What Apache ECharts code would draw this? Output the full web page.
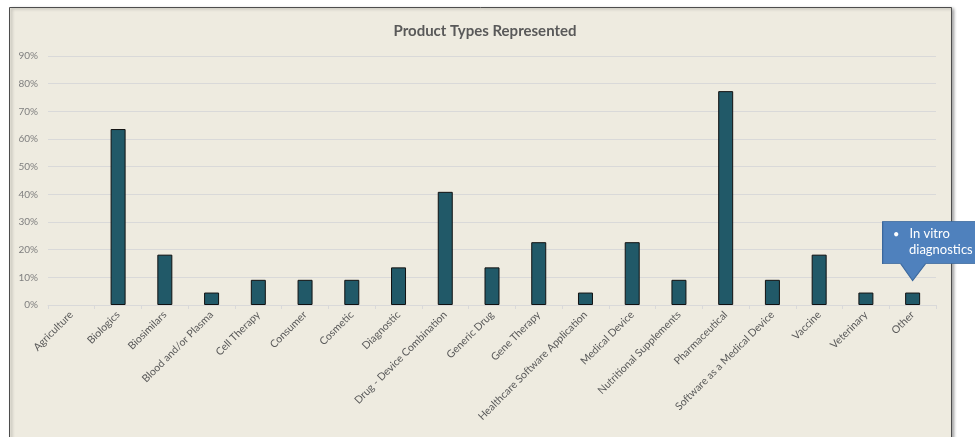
<!DOCTYPE html>
<html>
<head>
<meta charset="utf-8">
<script src="https://cdn.jsdelivr.net/npm/echarts@6/dist/echarts.min.js"></script>
<style>
html,body{margin:0;padding:0;background:#ffffff;}
#chart{width:975px;height:437px;}
</style>
</head>
<body>
<div id="chart"></div>
<script>
const categories = ["Agriculture","Biologics","Biosimilars","Blood and/or Plasma","Cell Therapy","Consumer","Cosmetic","Diagnostic","Drug - Device Combination","Generic Drug","Gene Therapy","Healthcare Software Application","Medical Device","Nutritional Supplements","Pharmaceutical","Software as a Medical Device","Vaccine","Veterinary","Other"];
const values = [0,63.6,18.2,4.5,9.1,9.1,9.1,13.6,40.9,13.6,22.7,4.5,22.7,9.1,77.3,9.1,18.2,4.5,4.5];
const yTicks = [0,10,20,30,40,50,60,70,80,90];
const calloutText = "In vitro\ndiagnostics";

const chart = echarts.init(document.getElementById('chart'));
const font = 'Lato, "Liberation Sans", sans-serif';
const barData = values.map(v => v === 0 ? {value: v, itemStyle: {borderWidth: 0}} : v);
chart.setOption({
  animation: false,
  backgroundColor: '#ffffff',
  graphic: [{
    type: 'rect', z: -10, silent: true,
    shape: {x: 9.5, y: 7.5, width: 942, height: 440},
    style: {fill: '#eeebe0', stroke: '#4d4d4d', lineWidth: 1, shadowColor: 'rgba(0,0,0,0.35)', shadowBlur: 3, shadowOffsetX: 2, shadowOffsetY: 1}
  }],
  title: {
    text: 'Product Types Represented',
    left: 480, top: 19, textAlign: 'center',
    textStyle: {fontFamily: font, fontSize: 15, fontWeight: 'bold', color: '#595959'}
  },
  grid: {left: 48, right: 39, top: 56, bottom: 132, containLabel: false},
  xAxis: {
    type: 'category',
    data: categories,
    axisLine: {lineStyle: {color: '#d9d9d9', width: 1}},
    axisTick: {show: true, length: 4, lineStyle: {color: '#d9d9d9'}},
    axisLabel: {rotate: 45, interval: 0, margin: 8, fontFamily: font, fontSize: 10.5, color: '#595959'}
  },
  yAxis: {
    type: 'value',
    min: 0, max: 90, interval: 10,
    axisLine: {show: false},
    axisTick: {show: false},
    splitLine: {lineStyle: {color: '#d9d9d9', width: 1}},
    axisLabel: {formatter: v => yTicks.includes(v) ? v + '%' : '', margin: 10, fontFamily: font, fontSize: 10, color: '#7f7f7f'}
  },
  series: [{
    type: 'bar',
    data: barData,
    barWidth: 15,
    itemStyle: {color: '#215968', borderColor: '#111111', borderWidth: 1},
    markPoint: {
      symbol: 'path://M0 0 H95 V42 H43 L30 59 L18 42 H0 Z',
      symbolSize: [95, 59],
      symbolOffset: [17.5, -41.5],
      symbolKeepAspect: false,
      itemStyle: {color: '#4f81bd', borderColor: '#3a679c', borderWidth: 1},
      label: {
        show: true,
        position: [11, 5],
        formatter: '{b|•}   {t|In vitro}\n{s|}{t|diagnostics}',
        rich: {
          b: {color: '#ffffff', fontSize: 11, fontFamily: font, lineHeight: 16},
          s: {width: 16},
          t: {color: '#ffffff', fontSize: 13, fontFamily: font, lineHeight: 16}
        }
      },
      data: [{coord: [categories.length - 1, values[values.length - 1]], name: calloutText}]
    }
  }]
});
</script>
</body>
</html>
